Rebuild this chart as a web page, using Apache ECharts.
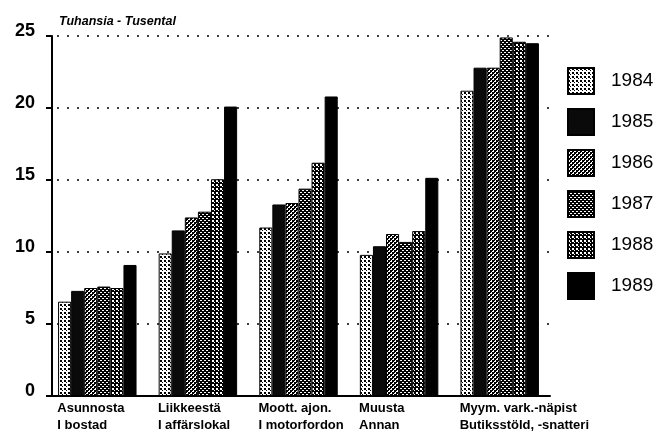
<!DOCTYPE html>
<html>
<head>
<meta charset="utf-8">
<script src="https://cdn.jsdelivr.net/npm/echarts@6/dist/echarts.min.js"></script>
<style>html,body{margin:0;padding:0;background:#fff;}#c{width:668px;height:433px;}</style>
</head>
<body>
<div id="c"></div>
<script>
var categories = [
  ['Asunnosta', 'I bostad'],
  ['Liikkeestä', 'I affärslokal'],
  ['Moott. ajon.', 'I motorfordon'],
  ['Muusta', 'Annan'],
  ['Myym. vark.-näpist', 'Butiksstöld, -snatteri']
];
var years = ['1984', '1985', '1986', '1987', '1988', '1989'];
var v1984 = [6.55, 9.9, 11.7, 9.8, 21.2];
var v1985 = [7.3, 11.5, 13.3, 10.4, 22.8];
var v1986 = [7.5, 12.4, 13.4, 11.25, 22.8];
var v1987 = [7.6, 12.8, 14.4, 10.7, 24.9];
var v1988 = [7.5, 15.05, 16.2, 11.45, 24.6];
var v1989 = [9.1, 20.1, 20.8, 15.15, 24.5];
var yTicks = [0, 5, 10, 15, 20, 25];
var seriesValues = [v1984, v1985, v1986, v1987, v1988, v1989];

function pat(size, bg, fg, rects) {
  var c = document.createElement('canvas');
  c.width = size; c.height = size;
  var g = c.getContext('2d');
  g.fillStyle = bg; g.fillRect(0, 0, size, size);
  g.fillStyle = fg;
  rects.forEach(function (r) { g.fillRect(r[0], r[1], r[2], r[3]); });
  return { image: c, repeat: 'repeat' };
}
var fills = [
  pat(4, '#fff', '#000', [[0, 0, 2, 2], [2, 2, 1, 1]]),
  '#0a0a0a',
  pat(4, '#fff', '#000', [[0, 0, 2, 2], [2, 2, 2, 2], [2, 0, 1, 1], [0, 2, 1, 1]]),
  pat(4, '#000', '#fff', [[0, 0, 2, 1], [2, 2, 2, 1]]),
  pat(4, '#000', '#fff', [[0, 0, 2, 2], [2, 2, 1, 1]]),
  '#000'
];

var FONT = 'Liberation Sans, Arial, sans-serif';
var chart = echarts.init(document.getElementById('c'), null, { renderer: 'canvas' });
var series = years.map(function (y, i) {
  return {
    name: y,
    type: 'bar',
    data: seriesValues[i],
    barGap: '0%',
    barCategoryGap: '22%',
    itemStyle: { color: fills[i], borderColor: '#000', borderWidth: 1 },
    emphasis: { disabled: true }
  };
});
chart.setOption({
  animation: false,
  backgroundColor: '#fff',
  title: {
    text: 'Tuhansia - Tusental',
    left: 54, top: 10,
    textStyle: { fontFamily: FONT, fontSize: 12.5, fontWeight: 'bold', fontStyle: 'italic', color: '#000' }
  },
  legend: {
    orient: 'vertical',
    left: 562, top: 62,
    itemWidth: 26, itemHeight: 26, itemGap: 13,
    icon: 'rect',
    data: years,
    textStyle: { fontFamily: FONT, fontSize: 19, lineHeight: 26, color: '#000', padding: [0, 0, 0, 12] }
  },
  grid: { left: 47, right: 118, top: 36, bottom: 37, containLabel: false },
  xAxis: {
    type: 'category',
    data: categories.map(function (c) { return c[0]; }),
    axisLine: { show: true, lineStyle: { color: '#000', width: 2 } },
    axisTick: { show: false },
    axisLabel: {
      margin: 4,
      interval: 0,
      formatter: function (val, idx) {
        return '{a|' + categories[idx][0] + '}\n{a|' + categories[idx][1] + '}';
      },
      rich: {
        a: { width: 80, align: 'left', fontFamily: FONT, fontSize: 13, fontWeight: 'bold', color: '#000', lineHeight: 17 }
      }
    }
  },
  yAxis: {
    type: 'value',
    min: 0, max: 25, interval: 5,
    offset: -5,
    axisLine: { show: true, lineStyle: { color: '#000', width: 2 } },
    axisTick: { show: true, inside: false, length: 6, lineStyle: { color: '#000', width: 2 } },
    axisLabel: {
      margin: 17,
      fontFamily: FONT, fontSize: 18, fontWeight: 'bold', color: '#000',
      verticalAlign: 'bottom', lineHeight: 10,
      formatter: function (v) { return yTicks.indexOf(v) >= 0 ? String(v) : ''; }
    },
    splitLine: { show: true, lineStyle: { color: '#000', width: 1.5, type: [2, 8] } }
  },
  series: series
});
</script>
</body>
</html>
